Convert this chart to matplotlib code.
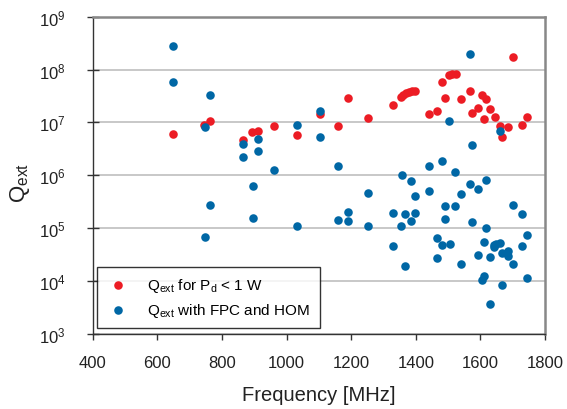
import numpy as np
import matplotlib
matplotlib.use('Agg')
import matplotlib.pyplot as plt

plt.rcParams['font.family'] = ['Liberation Sans', 'DejaVu Sans']
plt.rcParams['mathtext.fontset'] = 'custom'
plt.rcParams['mathtext.rm'] = 'Liberation Sans'
plt.rcParams['mathtext.it'] = 'Liberation Sans:italic'

# Q_ext for P_d < 1 W (red)
f_rojo = [649, 745, 763, 866, 894, 911, 960, 1031, 1104, 1159,
          1191, 1251, 1330, 1354, 1361, 1369, 1378, 1387, 1398, 1441,
          1467, 1481, 1490, 1503, 1513, 1524, 1541, 1569, 1575, 1593,
          1606, 1616, 1611, 1630, 1645, 1661, 1668, 1685, 1730, 1744,
          1701]
q_rojo = [6.1e6, 8.9e6, 1.06e7, 4.6e6, 6.65e6, 6.95e6, 8.5e6, 5.7e6, 1.42e7, 8.5e6,
          2.9e7, 1.22e7, 2.16e7, 3.06e7, 3.3e7, 3.55e7, 3.8e7, 3.97e7, 3.97e7, 1.44e7,
          1.62e7, 5.73e7, 2.85e7, 7.98e7, 8.2e7, 8.3e7, 2.74e7, 3.87e7, 1.5e7, 1.87e7,
          3.34e7, 2.74e7, 1.16e7, 1.79e7, 1.25e7, 8.4e6, 5.4e6, 8.1e6, 9.0e6, 1.25e7,
          1.7e8]

# Q_ext with FPC and HOM (blue)
f_azul = [650, 650, 763, 749, 866, 866, 911, 911, 895, 960,
          1031, 1104, 1104, 1158, 1569, 1504, 1575, 1661, 1253, 1356,
          1384, 1398, 1441, 1441, 1481, 1520, 1541, 1569, 1593, 1616,
          1191, 1160, 1191, 1251, 1330, 1368, 1397, 1355, 1384, 1490,
          1520, 1490, 1575, 1616, 1701, 1730, 1744, 1730, 1330, 1367,
          1467, 1480, 1506, 1467, 1541, 1611, 1643, 1648, 1661, 1642,
          1593, 1630, 1668, 1685, 1685, 1702, 1611, 1606, 1668, 1744,
          1630, 763, 896, 1031, 749]
q_azul = [2.75e8, 5.8e7, 3.34e7, 8.2e6, 3.9e6, 2.18e6, 4.78e6, 2.9e6, 6.3e5, 1.27e6,
          9.0e6, 1.64e7, 5.3e6, 1.51e6, 1.97e8, 1.05e7, 3.78e6, 6.8e6, 4.6e5, 1.01e6,
          7.9e5, 4.0e5, 1.47e6, 4.95e5, 1.88e6, 1.13e6, 4.4e5, 6.8e5, 5.5e5, 8.2e5,
          2.04e5, 1.4e5, 1.36e5, 1.09e5, 1.92e5, 1.82e5, 1.9e5, 1.09e5, 1.34e5, 2.61e5,
          2.61e5, 1.48e5, 1.28e5, 1.0e5, 2.76e5, 1.82e5, 7.5e4, 4.6e4, 4.6e4, 1.88e4,
          6.6e4, 4.8e4, 4.9e4, 2.67e4, 2.08e4, 5.5e4, 4.8e4, 5.0e4, 5.3e4, 4.4e4,
          3.1e4, 2.86e4, 3.4e4, 3.6e4, 3.0e4, 2.1e4, 1.22e4, 1.05e4, 8.5e3, 1.13e4,
          3.6e3, 2.73e5, 1.55e5, 1.11e5, 6.9e4]

etiqueta_rojo = r'Q$_{\mathregular{ext}}$ for P$_{\mathregular{d}}$ < 1 W'
etiqueta_azul = r'Q$_{\mathregular{ext}}$ with FPC and HOM'

fig = plt.figure(figsize=(5.67, 4.10), dpi=100)
ax = fig.add_axes([0.1635, 0.1837, 0.7977, 0.7731])

ax.scatter(f_rojo, q_rojo, s=38, color='#ec1c24', linewidths=0,
           label=etiqueta_rojo, zorder=3)
ax.scatter(f_azul, q_azul, s=38, color='#0067a5', linewidths=0,
           label=etiqueta_azul, zorder=3)

ax.set_yscale('log')
ax.set_xlim(400, 1800)
ax.set_ylim(1e3, 1e9)
ax.set_xticks(np.arange(400, 1801, 200))
ax.set_yticks([1e3, 1e4, 1e5, 1e6, 1e7, 1e8, 1e9])
ax.minorticks_off()

ax.grid(axis='y', color='#c4c4c4', linewidth=1.3, zorder=0)
ax.set_axisbelow(True)

for lado in ['top', 'right']:
    ax.spines[lado].set_color('#888888')
    ax.spines[lado].set_linewidth(1.8)
for lado in ['left', 'bottom']:
    ax.spines[lado].set_color('#333333')
    ax.spines[lado].set_linewidth(1.0)

ax.tick_params(axis='x', direction='out', length=4, width=1, color='#333333',
               labelsize=12, labelcolor='#222222', pad=11)
ax.tick_params(axis='y', direction='inout', length=9, width=1, color='#333333',
               labelsize=12, labelcolor='#222222', pad=15)

ax.set_xlabel('Frequency [MHz]', fontsize=14.5, color='#222222')
ax.xaxis.set_label_coords(0.5, -0.163)
ax.set_ylabel(r'Q$_{\mathregular{ext}}$', fontsize=16, color='#222222')
ax.yaxis.set_label_coords(-0.135, 0.48)

ley = ax.legend(loc='lower left', bbox_to_anchor=(0.0095, 0.018),
                borderaxespad=0, fontsize=11, frameon=True, fancybox=False,
                edgecolor='black', handletextpad=1.2, handlelength=1.5,
                borderpad=0.6, labelspacing=0.45, scatterpoints=1)
ley.get_frame().set_linewidth(1.0)
ley.set_zorder(5)

plt.savefig('out.png', dpi=100)
